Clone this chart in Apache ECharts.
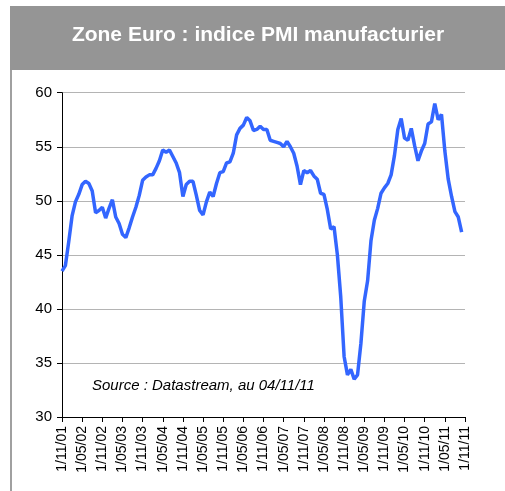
<!doctype html>
<html>
<head>
<meta charset="UTF-8">
<script src="https://cdn.jsdelivr.net/npm/echarts@6/dist/echarts.min.js"></script>
<style>
  html, body { margin: 0; padding: 0; background: #fff; }
</style>
</head>
<body>
<div id="pmi" style="width:505px;height:491px;"></div>
<script>
// mois : du 1/11/01 au 1/11/11 (etiquettes tous les 6 mois)
var months = [];
var years = ['01','02','03','04','05','06','07','08','09','10','11'];
var monthCodes = ['01','02','03','04','05','06','07','08','09','10','11','12'];

// indice PMI manufacturier zone euro, nov. 2001 -> oct. 2011
var pmi2001 = [43.5, 44.0];
var pmi2002 = [46.2, 48.6, 49.9, 50.6, 51.5, 51.8, 51.6, 50.9, 48.9, 49.1, 49.4, 48.4];
var pmi2003 = [49.3, 50.1, 48.5, 47.9, 46.9, 46.6, 47.5, 48.5, 49.4, 50.5, 51.9, 52.2];
var pmi2004 = [52.4, 52.4, 53.0, 53.7, 54.7, 54.5, 54.7, 54.1, 53.5, 52.6, 50.4, 51.5];
var pmi2005 = [51.8, 51.8, 50.5, 49.1, 48.7, 49.9, 50.8, 50.4, 51.6, 52.6, 52.7, 53.5];
var pmi2006 = [53.6, 54.4, 56.1, 56.7, 57.0, 57.7, 57.4, 56.5, 56.6, 56.9, 56.6, 56.6];
var pmi2007 = [55.6, 55.5, 55.4, 55.3, 55.0, 55.5, 55.0, 54.4, 53.2, 51.5, 52.8, 52.6];
var pmi2008 = [52.8, 52.3, 52.0, 50.7, 50.6, 49.2, 47.4, 47.6, 45.0, 41.1, 35.6, 33.9];
var pmi2009 = [34.4, 33.5, 33.9, 36.8, 40.7, 42.6, 46.3, 48.2, 49.3, 50.7, 51.2, 51.6];
var pmi2010 = [52.4, 54.2, 56.6, 57.6, 55.8, 55.6, 56.7, 55.1, 53.7, 54.6, 55.3, 57.1];
var pmi2011 = [57.3, 59.0, 57.5, 58.0, 54.6, 52.0, 50.4, 49.0, 48.5, 47.1];

var pmi = [].concat(pmi2001, pmi2002, pmi2003, pmi2004, pmi2005, pmi2006,
                    pmi2007, pmi2008, pmi2009, pmi2010, pmi2011);

// categories mensuelles 1/11/01 ... 1/11/11
for (var y = 0; y < years.length; y++) {
    for (var m = 0; m < 12; m++) {
        if (y === 0 && m < 10) continue;
        if (y === years.length - 1 && m > 10) continue;
        months.push('1/' + monthCodes[m] + '/' + years[y]);
    }
}

var chart = echarts.init(document.getElementById('pmi'));
var option = {
    animation: false,
    textStyle: { fontFamily: 'Liberation Sans, Arial, sans-serif' },
    graphic: [
        {   // bandeau titre
            type: 'rect',
            shape: { x: 10, y: 6, width: 500, height: 64 },
            style: { fill: '#959595' }
        },
        {   // bord gauche du cadre
            type: 'rect',
            shape: { x: 10, y: 70, width: 2, height: 430 },
            style: { fill: '#a0a0a0' }
        },
        {
            type: 'text',
            x: 258, y: 35,
            style: {
                text: 'Zone Euro : indice PMI manufacturier',
                fill: '#fff',
                font: 'bold 21px "Liberation Sans", Arial, sans-serif',
                textAlign: 'center',
                textVerticalAlign: 'middle'
            }
        },
        {
            type: 'text',
            x: 92, y: 386,
            style: {
                text: 'Source : Datastream, au 04/11/11',
                fill: '#000',
                font: 'italic 15px "Liberation Sans", Arial, sans-serif',
                textVerticalAlign: 'middle'
            }
        }
    ],
    grid: { left: 62, right: 40, top: 92.7, bottom: 74 },
    xAxis: {
        type: 'category',
        data: months,
        boundaryGap: false,
        axisLine: { lineStyle: { color: '#000', width: 1 } },
        axisTick: { interval: 5, length: 5, lineStyle: { color: '#000' } },
        axisLabel: {
            interval: 5,
            rotate: 90,
            color: '#000',
            fontSize: 14,
            margin: 9
        },
        splitLine: { show: false }
    },
    yAxis: {
        type: 'value',
        min: 30, max: 60, interval: 5,
        axisLine: { show: true, lineStyle: { color: '#000', width: 1 } },
        axisTick: { show: true, length: 5, lineStyle: { color: '#000' } },
        axisLabel: { color: '#000', fontSize: 15, margin: 10 },
        splitLine: { lineStyle: { color: '#b4b4b4', width: 1 } }
    },
    series: [
        {
            type: 'line',
            data: pmi,
            showSymbol: false,
            lineStyle: { color: '#3366ff', width: 3.5 }
        }
    ]
};
chart.setOption(option);
</script>
</body>
</html>
